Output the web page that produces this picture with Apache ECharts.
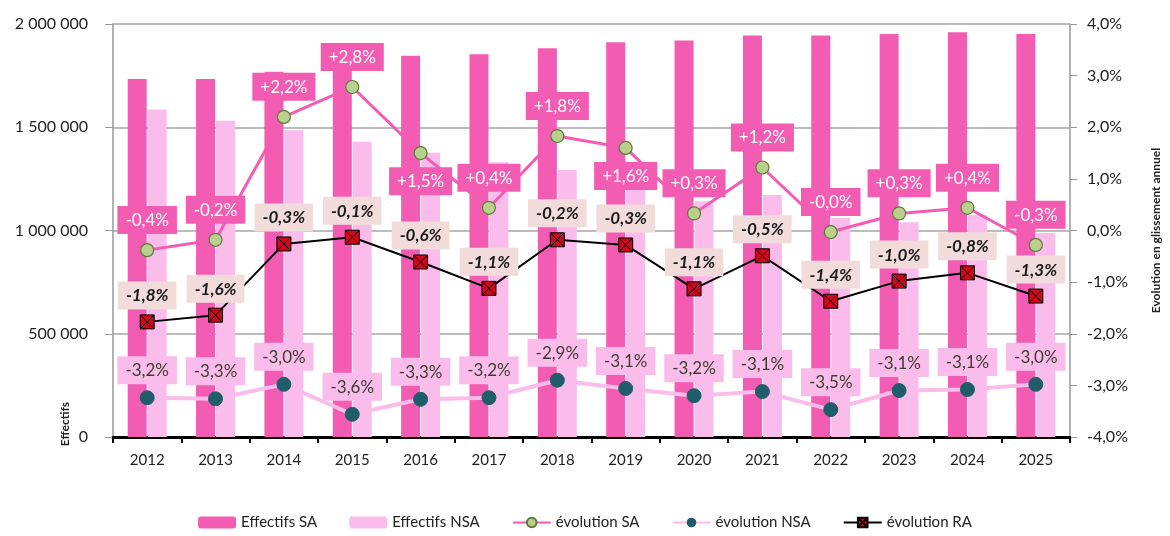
<!DOCTYPE html>
<html>
<head>
<meta charset="utf-8">
<script src="https://cdn.jsdelivr.net/npm/echarts@6/dist/echarts.min.js"></script>
<style>
  html, body { margin: 0; padding: 0; background: #fff; }
  #chart { width: 1170px; height: 536px; }
</style>
</head>
<body>
<div id="chart"></div>
<script>
  // données
  const years = ['2012', '2013', '2014', '2015', '2016', '2017', '2018', '2019', '2020', '2021', '2022', '2023', '2024', '2025']
  const effectifsSA = [1734000, 1734000, 1769000, 1805000, 1846000, 1853000, 1882000, 1912000, 1920000, 1944000, 1944000, 1952000, 1960000, 1952000]
  const effectifsNSA = [1586000, 1531000, 1486000, 1430000, 1377000, 1330000, 1293000, 1259000, 1142000, 1172000, 1060000, 1040000, 1075000, 988000]
  const evolSA = [-0.38, -0.18, 2.2, 2.78, 1.5, 0.44, 1.83, 1.6, 0.33, 1.22, -0.03, 0.33, 0.44, -0.28]
  const evolNSA = [-3.24, -3.26, -2.98, -3.56, -3.27, -3.24, -2.9, -3.06, -3.2, -3.12, -3.47, -3.1, -3.08, -2.98]
  const evolRA = [-1.77, -1.64, -0.26, -0.13, -0.61, -1.12, -0.18, -0.28, -1.13, -0.49, -1.37, -0.98, -0.82, -1.27]
  const leftTicks = [0, 500000, 1000000, 1500000, 2000000]

  const font = 'Lato, "Liberation Sans", sans-serif'
  const pink = '#F35CB3'
  const lightPink = '#FABDEB'

  const fmtPct = (v, plus) => (plus && v > 0 ? '+' : '') + v.toFixed(1).replace('.', ',') + '%'
  const fmtNum = (v) => String(v).replace(/\B(?=(\d{3})+(?!\d))/g, ' ')

  const chart = echarts.init(document.getElementById('chart'))

  const option = {
    animation: false,
    textStyle: { fontFamily: font },
    grid: { left: 113, right: 93, top: 24, bottom: 99 },
    legend: {
      bottom: 1,
      left: 'center',
      itemGap: 32,
      itemWidth: 38,
      itemHeight: 12,
      textStyle: { fontSize: 15, color: '#222', fontFamily: font },
      data: ['Effectifs SA', 'Effectifs NSA', 'évolution SA', 'évolution NSA', 'évolution RA']
    },
    xAxis: {
      type: 'category',
      data: years,
      axisLine: { lineStyle: { color: '#000', width: 3 } },
      axisTick: { show: true, length: 6, lineStyle: { color: '#000', width: 2 } },
      axisLabel: { color: '#222', fontSize: 15, margin: 16 }
    },
    yAxis: [
      {
        type: 'value',
        min: leftTicks[0],
        max: leftTicks[leftTicks.length - 1],
        interval: 500000,
        axisLine: { show: true, lineStyle: { color: '#999', width: 1.5 } },
        axisTick: { show: true, inside: false, length: 8, lineStyle: { color: '#999' } },
        axisLabel: { color: '#222', fontSize: 16, margin: 25, formatter: fmtNum },
        splitLine: { lineStyle: { color: '#A6A6A6', width: 1.5 } }
      },
      {
        type: 'value',
        min: -4,
        max: 4,
        interval: 1,
        position: 'right',
        name: 'Evolution en glissement annuel',
        nameLocation: 'middle',
        nameRotate: 90,
        nameGap: 80,
        nameTextStyle: { fontSize: 12, fontWeight: 'bold', color: '#222' },
        axisLine: { show: true, lineStyle: { color: '#999', width: 1.5 } },
        axisTick: { show: true, length: 7, lineStyle: { color: '#999' } },
        axisLabel: { color: '#222', fontSize: 16, margin: 17, formatter: (v) => fmtPct(v, false) },
        splitLine: { show: false }
      }
    ],
    graphic: [
      {
        type: 'text',
        left: 59,
        top: 402,
        rotation: Math.PI / 2,
        style: { text: 'Effectifs', font: 'bold 12px ' + font, fill: '#222' }
      }
    ],
    series: [
      {
        name: 'Effectifs SA',
        type: 'bar',
        barWidth: 19,
        barGap: '5%',
        itemStyle: { color: pink },
        data: effectifsSA
      },
      {
        name: 'Effectifs NSA',
        type: 'bar',
        barWidth: 19,
        itemStyle: { color: lightPink },
        data: effectifsNSA
      },
      {
        name: 'évolution NSA',
        type: 'line',
        yAxisIndex: 1,
        symbol: 'circle',
        symbolSize: 14,
        z: 3,
        lineStyle: { color: lightPink, width: 4 },
        itemStyle: { color: '#1F5D6B', borderColor: '#1F5D6B' },
        label: {
          show: true,
          position: 'top',
          distance: 6,
          formatter: (p) => fmtPct(p.value, false),
          color: '#3D3D2E',
          fontSize: 17,
          backgroundColor: lightPink,
          padding: [6, 8, 5, 8]
        },
        data: evolNSA
      },
      {
        name: 'évolution SA',
        type: 'line',
        yAxisIndex: 1,
        symbol: 'circle',
        symbolSize: 13,
        z: 4,
        lineStyle: { color: pink, width: 3 },
        itemStyle: { color: '#B8D08C', borderColor: '#5D7A3A', borderWidth: 1.2 },
        label: {
          show: true,
          position: 'top',
          distance: 9,
          formatter: (p) => fmtPct(p.value, true),
          color: '#fff',
          fontSize: 17,
          backgroundColor: pink,
          padding: [6, 8, 5, 8]
        },
        data: evolSA.map((v, i) => (i === 4 || i === 7 ? { value: v, label: { position: 'bottom', distance: 7 } } : v))
      },
      {
        name: 'évolution RA',
        type: 'line',
        yAxisIndex: 1,
        symbol: 'path://M0,0L10,0L10,10L0,10Z M0,0L10,10 M10,0L0,10',
        symbolSize: 14,
        z: 5,
        lineStyle: { color: '#000', width: 2 },
        itemStyle: { color: '#D0081E', borderColor: '#000', borderWidth: 1 },
        label: {
          show: true,
          position: 'top',
          distance: 5,
          formatter: (p) => fmtPct(p.value, false),
          color: '#1A1A1A',
          fontSize: 17,
          fontStyle: 'italic',
          fontWeight: 'bold',
          backgroundColor: '#F2DCDB',
          padding: [6, 8, 5, 8]
        },
        data: evolRA
      }
    ]
  }

  chart.setOption(option)
</script>
</body>
</html>
